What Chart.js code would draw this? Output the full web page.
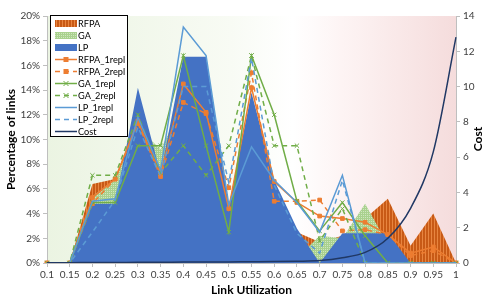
<!DOCTYPE html>
<html>
<head>
<meta charset="utf-8">
<script src="https://cdn.jsdelivr.net/npm/chart.js@4.4.0/dist/chart.umd.min.js"></script>
<style>
  html, body { margin: 0; padding: 0; background: #fff; }
</style>
</head>
<body>
<canvas id="myChart" width="484" height="299"></canvas>
<script>
// link utilization buckets
const labels = ["0.1","0.15","0.2","0.25","0.3","0.35","0.4","0.45","0.5","0.55","0.6","0.65","0.7","0.75","0.8","0.85","0.9","0.95","1"];

// area series (% of links)
const rfpa = [0,0,6.4,6.8,11.5,7.0,14.4,12.2,4.4,13.5,6.5,2.5,1.7,2.2,3.6,5.2,1.4,4.0,0];
const ga   = [0,0,5.4,6.8,11.0,9.2,13.0,14.0,4.2,13.0,6.0,0.4,2.2,2.0,4.8,1.5,0,0,0];
const lp   = [0,0,4.8,4.8,14.2,7.2,16.7,16.7,4.6,13.8,6.7,2.8,0,2.4,2.4,2.4,0,0,0];

// line series (% of links)
const rfpa1 = [0,0,5.3,6.8,11.5,7.2,14.5,12.2,4.4,14.2,6.6,4.9,3.8,3.6,3.3,2.3,0.8,1.3,0];
const rfpa2 = [0,0,4.8,6.8,11.3,7.0,13.0,12.1,6.1,15.4,5.0,5.0,5.1,2.6,2.7,2.3,0.6,1.0,0];
const ga1   = [0,0,4.9,4.9,9.5,9.5,16.8,9.5,2.5,16.8,12.0,5.0,2.6,4.9,2.2,0,0,0,0];
const ga2   = [0,0,7.1,7.1,12.0,7.3,9.5,7.1,9.5,16.8,9.5,9.5,1.8,4.4,0,0,0,0,0];
const lp1   = [0,0,5.0,5.2,11.8,7.5,19.1,16.8,4.7,9.4,6.7,4.9,2.5,7.1,0,0,0,0,0];
const lp2   = [0,0,2.5,5.1,11.0,7.0,14.3,14.3,6.5,16.6,6.3,2.4,0.8,6.7,0,0,0,0,0];

// cost (right axis)
const cost = [0.02,0.02,0.03,0.03,0.04,0.04,0.05,0.05,0.06,0.07,0.08,0.1,0.14,0.3,0.6,1.4,3.1,6.3,12.8];

const leftTicks = [0,2,4,6,8,10,12,14,16,18,20];
const rightTicks = [0,2,4,6,8,10,12,14];

const ORANGE = "#ed7d31", GREEN = "#70ad47", LBLUE = "#5b9bd5", BLUE = "#4472c4", NAVY = "#203864";
const FONT = "Lato";

const ctx0 = document.getElementById("myChart").getContext("2d");

// fill patterns
const rfpaPattern = (function () {
  const c = document.createElement("canvas");
  c.width = 3; c.height = 3;
  const g = c.getContext("2d");
  g.fillStyle = "#c85a16"; g.fillRect(0, 0, 3, 3);
  g.fillStyle = "#e88540"; g.fillRect(2, 0, 1, 3);
  return ctx0.createPattern(c, "repeat");
})();
const gaPattern = (function () {
  const c = document.createElement("canvas");
  c.width = 2; c.height = 2;
  const g = c.getContext("2d");
  g.fillStyle = "#a9d18e"; g.fillRect(0, 0, 2, 2);
  g.fillStyle = "#cfe6bf"; g.fillRect(1, 1, 1, 1);
  return ctx0.createPattern(c, "repeat");
})();

function area(label, data, bg, order) {
  return { label: label, data: data, backgroundColor: bg, borderColor: "transparent", borderWidth: 1,
           fill: "origin", pointRadius: 0, tension: 0, order: order, yAxisID: "y" };
}
function line(label, data, color, dash, style, order) {
  return { label: label, data: data, borderColor: color, backgroundColor: color, borderWidth: 1.5,
           borderDash: dash, fill: false, tension: 0, order: order, yAxisID: "y",
           pointStyle: style || false, pointRadius: style ? (style === "rect" ? 2.6 : 3) : 0,
           pointBorderColor: color, pointBackgroundColor: color, pointBorderWidth: 1 };
}

const bgPlugin = {
  id: "bgPlugin",
  beforeDraw(chart) {
    const a = chart.chartArea, c = chart.ctx;
    const g = c.createLinearGradient(a.left, 0, a.right, 0);
    g.addColorStop(0, "#ebf4e2");
    g.addColorStop(0.45, "#f8fbf4");
    g.addColorStop(0.6, "#ffffff");
    g.addColorStop(0.72, "#fdf4f4");
    g.addColorStop(1, "#f5dcdc");
    c.save();
    c.fillStyle = g;
    c.fillRect(a.left, a.top, a.right - a.left, a.bottom - a.top);
    c.restore();
  }
};

const legendItems = [
  { t: "RFPA", kind: "area", fill: rfpaPattern },
  { t: "GA", kind: "area", fill: gaPattern },
  { t: "LP", kind: "area", fill: BLUE },
  { t: "RFPA_1repl", color: ORANGE, dash: [], mark: "rect" },
  { t: "RFPA_2repl", color: ORANGE, dash: [5, 4], mark: "rect" },
  { t: "GA_1repl", color: GREEN, dash: [], mark: "x" },
  { t: "GA_2repl", color: GREEN, dash: [5, 4], mark: "x" },
  { t: "LP_1repl", color: LBLUE, dash: [] },
  { t: "LP_2repl", color: LBLUE, dash: [5, 4] },
  { t: "Cost", color: NAVY, dash: [] }
];

const legendPlugin = {
  id: "legendPlugin",
  afterDraw(chart) {
    const c = chart.ctx;
    c.save();
    c.fillStyle = "#fff";
    c.fillRect(51, 16, 77, 121);
    c.strokeStyle = "#000";
    c.lineWidth = 1;
    c.strokeRect(50.5, 15.5, 77, 121);
    c.font = "9.2px " + FONT;
    c.textBaseline = "middle";
    legendItems.forEach(function (it, i) {
      const y = 23.5 + i * 12;
      if (it.kind === "area") {
        c.fillStyle = it.fill;
        c.fillRect(55, y - 3.5, 22, 7);
      } else {
        c.strokeStyle = it.color;
        c.lineWidth = 1.5;
        c.setLineDash(it.dash);
        c.beginPath(); c.moveTo(55, y); c.lineTo(77, y); c.stroke();
        c.setLineDash([]);
        if (it.mark === "rect") {
          c.fillStyle = it.color;
          c.fillRect(63.5, y - 2.5, 5, 5);
        } else if (it.mark === "x") {
          c.lineWidth = 1;
          c.beginPath();
          c.moveTo(63.5, y - 2.5); c.lineTo(68.5, y + 2.5);
          c.moveTo(68.5, y - 2.5); c.lineTo(63.5, y + 2.5);
          c.stroke();
        }
      }
      c.fillStyle = "#000";
      c.fillText(it.t, 78, y + 0.5);
    });
    // right axis title, reads bottom to top
    c.font = "bold 12px " + FONT;
    c.textAlign = "center";
    c.translate(478, 139);
    c.rotate(-Math.PI / 2);
    c.fillText("Cost", 0, 0);
    c.restore();
  }
};

new Chart(ctx0, {
  type: "line",
  data: {
    labels: labels,
    datasets: [
      area("RFPA", rfpa, rfpaPattern, 30),
      area("GA", ga, gaPattern, 29),
      area("LP", lp, BLUE, 28),
      line("RFPA_1repl", rfpa1, ORANGE, [], "rect", 6),
      line("RFPA_2repl", rfpa2, ORANGE, [5, 4], "rect", 5),
      line("GA_1repl", ga1, GREEN, [], "crossRot", 4),
      line("GA_2repl", ga2, GREEN, [5, 4], "crossRot", 3),
      line("LP_1repl", lp1, LBLUE, [], null, 2),
      line("LP_2repl", lp2, LBLUE, [5, 4], null, 1),
      { label: "Cost", data: cost, borderColor: NAVY, backgroundColor: NAVY, borderWidth: 1.5,
        fill: false, pointRadius: 0, cubicInterpolationMode: "monotone", yAxisID: "y1", order: 0 }
    ]
  },
  options: {
    responsive: false,
    animation: false,
    devicePixelRatio: 1,
    layout: { padding: { top: 16, left: 0, right: 0, bottom: 0 } },
    plugins: { legend: { display: false }, tooltip: { enabled: false } },
    scales: {
      x: {
        offset: false,
        grid: { display: true, drawOnChartArea: false, drawTicks: true, tickLength: 4, color: "#bfbfbf" },
        border: { color: "#bfbfbf" },
        ticks: { color: "#404040", font: { family: FONT, size: 10 }, maxRotation: 0, autoSkip: false, padding: 2 },
        title: { display: true, text: "Link Utilization", color: "#000", font: { family: FONT, size: 12, weight: "bold" }, padding: { top: 2, bottom: 2 } },
        afterFit(s) { s.height = 36; }
      },
      y: {
        position: "left",
        min: 0, max: 20,
        afterBuildTicks(s) { s.ticks = leftTicks.map(v => ({ value: v })); },
        grid: { display: true, drawOnChartArea: false, tickLength: 4, color: "#bfbfbf" },
        border: { color: "#bfbfbf" },
        ticks: { color: "#404040", font: { family: FONT, size: 10 }, padding: 3, callback: v => v + "%" },
        title: { display: true, text: "Percentage of links", color: "#000", font: { family: FONT, size: 12, weight: "bold" }, padding: { top: 4, bottom: 2 } },
        afterFit(s) { s.width = 47; }
      },
      y1: {
        position: "right",
        min: 0, max: 14,
        afterBuildTicks(s) { s.ticks = rightTicks.map(v => ({ value: v })); },
        grid: { display: true, drawOnChartArea: false, tickLength: 4, color: "#bfbfbf" },
        border: { color: "#bfbfbf" },
        ticks: { color: "#404040", font: { family: FONT, size: 10 }, padding: 3 },
        afterFit(s) { s.width = 28; }
      }
    }
  },
  plugins: [bgPlugin, legendPlugin]
});
</script>
</body>
</html>
